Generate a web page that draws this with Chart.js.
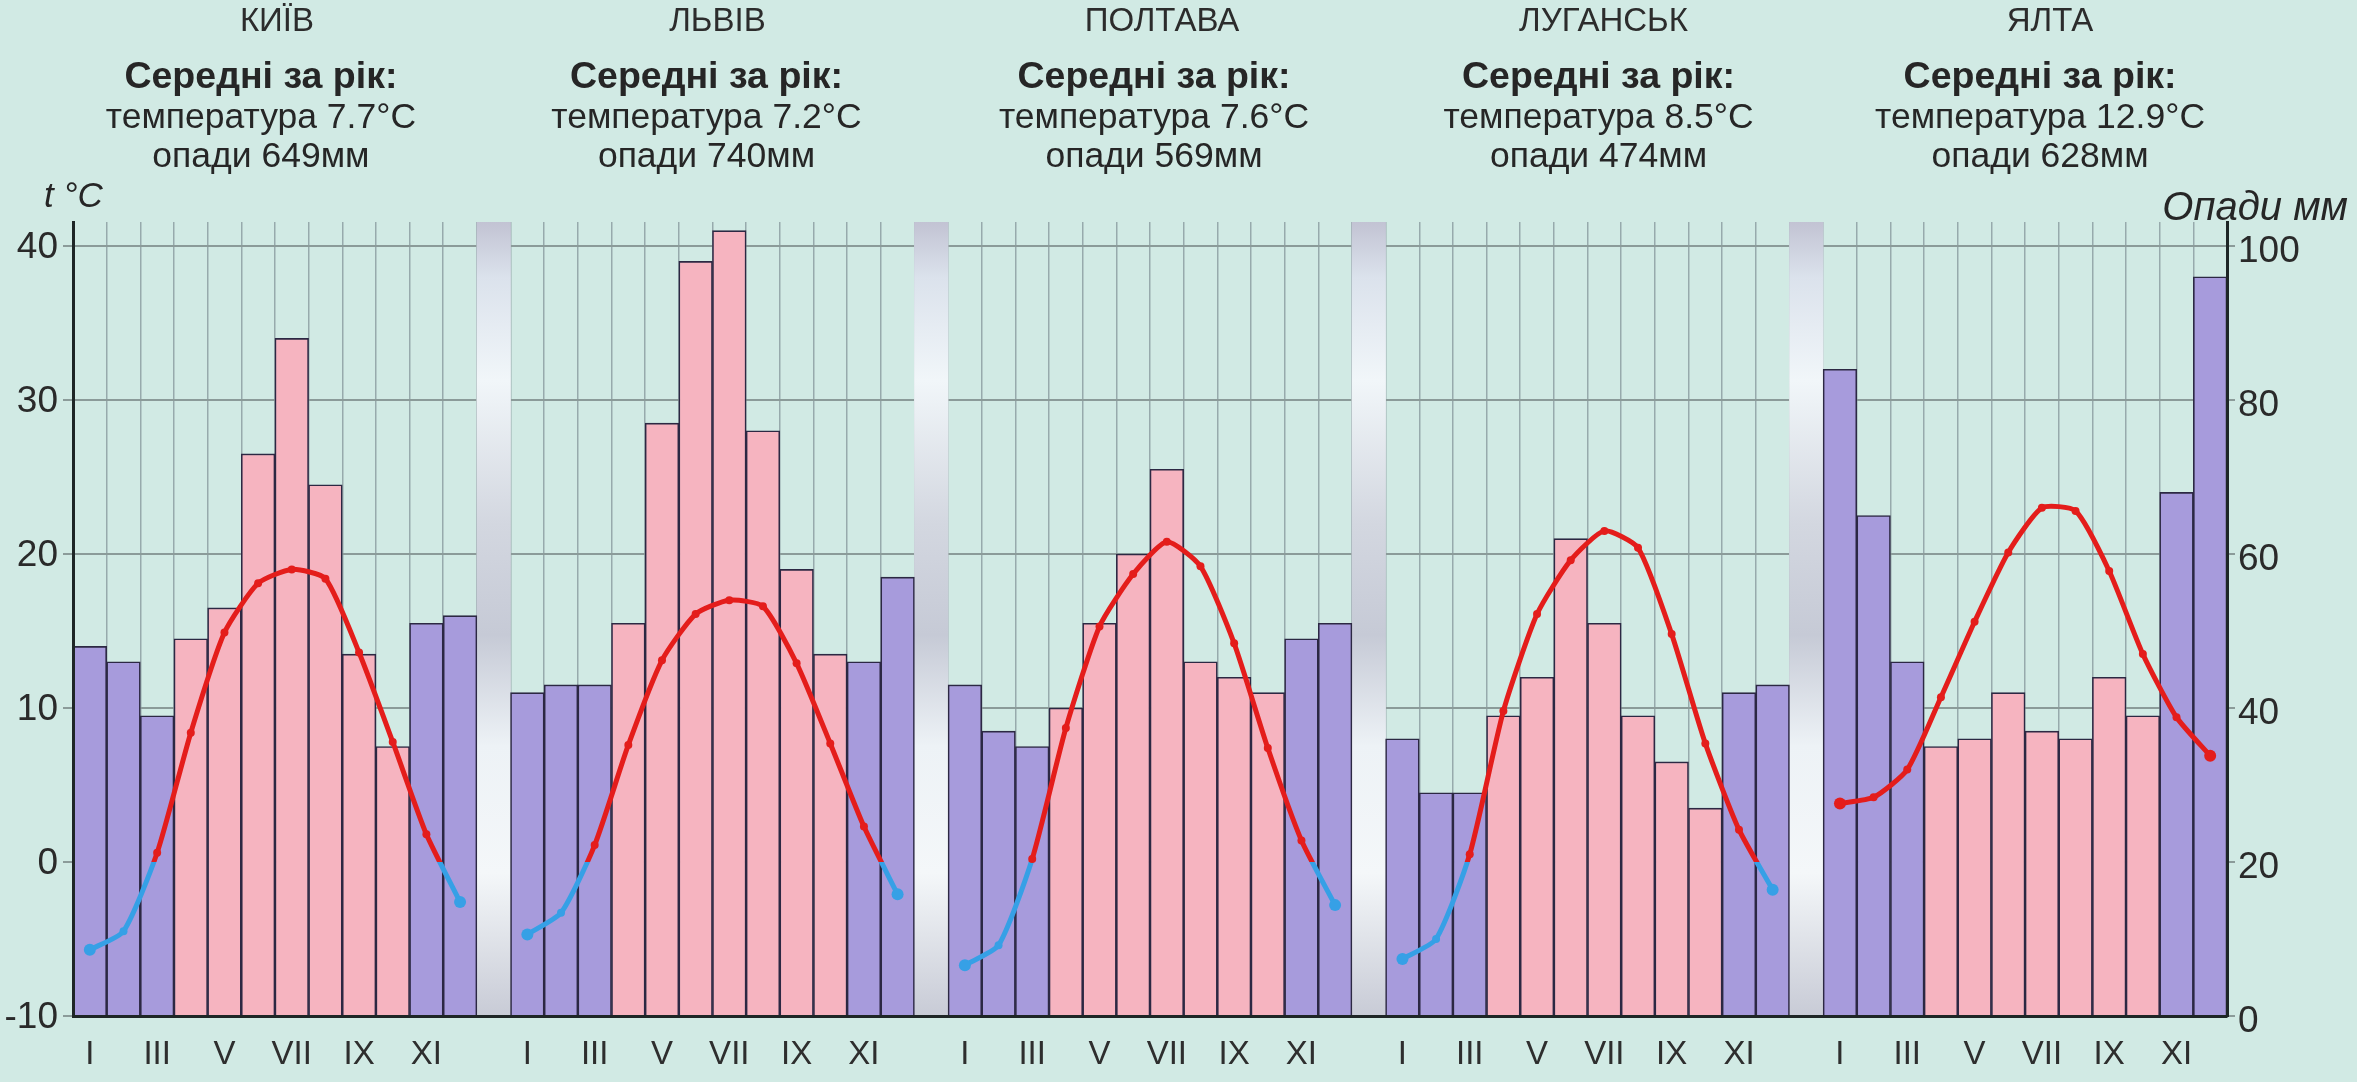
<!DOCTYPE html>
<html lang="uk">
<head>
<meta charset="utf-8">
<title>Клімат міст України</title>
<script src="https://cdn.jsdelivr.net/npm/chart.js@4/dist/chart.umd.min.js"></script>
<style>
  html, body { margin: 0; padding: 0; background: #d1eae4; }
  #wrap {
    position: relative; width: 2357px; height: 1082px; overflow: hidden;
    background: #d1eae4; color: #262626;
    font-family: 'Liberation Sans', Arial, Helvetica, sans-serif;
  }
  #chart { position: absolute; left: 0; top: 0; }
  .head { position: absolute; transform: translateX(-50%); white-space: nowrap; text-align: center; line-height: 1; }
  .name { font-size: 33px; color: #2c2c2c; }
  .sub  { font-size: 37.5px; font-weight: bold; }
  .val  { font-size: 35.5px; }
  .axis-title { position: absolute; font-style: italic; line-height: 1; white-space: nowrap; }
</style>
</head>
<body>
<div id="wrap">
  <canvas id="chart" width="2357" height="1082"></canvas>
  <div id="heads"></div>
  <div class="axis-title" id="tTitle" style="left:44px; top:177px; font-size:35px;">t °C</div>
  <div class="axis-title" id="pTitle" style="right:9px; top:186px; font-size:40px;">Опади мм</div>
</div>
<script>
// Month labels (Roman numerals) and the ones printed under the axis
const MONTHS = ['I', 'II', 'III', 'IV', 'V', 'VI', 'VII', 'VIII', 'IX', 'X', 'XI', 'XII'];
const SHOWN_MONTHS = ['I', 'III', 'V', 'VII', 'IX', 'XI'];

// Stations and their yearly averages
const CITIES = ['КИЇВ', 'ЛЬВІВ', 'ПОЛТАВА', 'ЛУГАНСЬК', 'ЯЛТА'];
const ANNUAL_TEMP = ['7.7', '7.2', '7.6', '8.5', '12.9'];
const ANNUAL_PRECIP = [649, 740, 569, 474, 628];

// Monthly precipitation, mm
const KYIV_PRECIP    = [48, 46, 39, 49, 53, 73, 88, 69, 47, 35, 51, 52];
const LVIV_PRECIP    = [42, 43, 43, 51, 77, 98, 102, 76, 58, 47, 46, 57];
const POLTAVA_PRECIP = [43, 37, 35, 40, 51, 60, 71, 46, 44, 42, 49, 51];
const LUHANSK_PRECIP = [36, 29, 29, 39, 44, 62, 51, 39, 33, 27, 42, 43];
const YALTA_PRECIP   = [84, 65, 46, 35, 36, 42, 37, 36, 44, 39, 68, 96];

// Monthly mean air temperature, °C
const KYIV_TEMP    = [-5.7, -4.5, 0.6, 8.4, 14.9, 18.1, 19.0, 18.4, 13.6, 7.8, 1.8, -2.6];
const LVIV_TEMP    = [-4.7, -3.3, 1.1, 7.6, 13.1, 16.1, 17.0, 16.6, 12.9, 7.7, 2.3, -2.1];
const POLTAVA_TEMP = [-6.7, -5.4, 0.2, 8.7, 15.3, 18.7, 20.8, 19.2, 14.2, 7.4, 1.4, -2.8];
const LUHANSK_TEMP = [-6.3, -5.0, 0.5, 9.8, 16.1, 19.6, 21.5, 20.4, 14.8, 7.7, 2.1, -1.8];
const YALTA_TEMP   = [3.8, 4.2, 6.0, 10.7, 15.6, 20.1, 23.0, 22.8, 18.9, 13.5, 9.4, 6.9];

const CITY_PRECIP = [KYIV_PRECIP, LVIV_PRECIP, POLTAVA_PRECIP, LUHANSK_PRECIP, YALTA_PRECIP];
const CITY_TEMP = [KYIV_TEMP, LVIV_TEMP, POLTAVA_TEMP, LUHANSK_TEMP, YALTA_TEMP];

// Axis ranges: 10 °C on the left axis equals 20 mm on the right axis
const TEMP_MIN = -10;
const TEMP_MAX = 41.56;
const TEMP_TOP_TICK = 40;
const PRECIP_MAX = (TEMP_MAX - TEMP_MIN) * 2;
const PRECIP_TOP_TICK = 100;

// Small horizontal nudges of the heading lines (px): station name, the text block below it
const NAME_SHIFT = [2, 5, 12, 16, 25];
const BLOCK_SHIFT = [-14, -6, 4, 11, 15];

// Colours
const BG = '#d1eae4';
const COLD_FILL = '#a79bdc';
const WARM_FILL = '#f6b4c0';
const BAR_EDGE = '#2c2843';
const RED = '#e41d1b';
const BLUE = '#36a0e6';
const isColdMonth = m => m <= 2 || m >= 10;

// Flatten the five stations onto one category axis, with a spacer slot between stations
const labels = [], precip = [], temp = [], spacer = [], monthOf = [];
CITIES.forEach((city, c) => {
  for (let m = 0; m < 12; m++) {
    labels.push(MONTHS[m]);
    precip.push(CITY_PRECIP[c][m]);
    temp.push(CITY_TEMP[c][m]);
    spacer.push(null);
    monthOf.push(m);
  }
  if (c < CITIES.length - 1) {
    labels.push('');
    precip.push(null);
    temp.push(null);
    spacer.push([TEMP_MIN, TEMP_MAX]);
    monthOf.push(-1);
  }
});

// Shiny grey strip drawn in the spacer slots
function spacerFill(ctx) {
  const chart = ctx.chart, a = chart.chartArea;
  if (!a) return '#d8dce4';
  const g = chart.ctx.createLinearGradient(0, a.top, 0, a.bottom);
  g.addColorStop(0.00, '#c2c3d3');
  g.addColorStop(0.07, '#dbe2ec');
  g.addColorStop(0.20, '#f1f6f9');
  g.addColorStop(0.38, '#d3d7e0');
  g.addColorStop(0.52, '#c6cad6');
  g.addColorStop(0.66, '#edf2f6');
  g.addColorStop(0.82, '#f4f7f9');
  g.addColorStop(1.00, '#c8cbd6');
  return g;
}

// Temperature curve: red above 0 °C, blue below
function tempStroke(ctx) {
  const chart = ctx.chart, a = chart.chartArea;
  if (!a) return RED;
  const y0 = chart.scales.y.getPixelForValue(0);
  const f = Math.min(1, Math.max(0, (y0 - a.top) / (a.bottom - a.top)));
  const g = chart.ctx.createLinearGradient(0, a.top, 0, a.bottom);
  g.addColorStop(0, RED);
  g.addColorStop(f, RED);
  g.addColorStop(f, BLUE);
  g.addColorStop(1, BLUE);
  return g;
}

// Tick values every `step` from `from` to `to`
function tickRange(from, to, step) {
  const out = [];
  for (let v = from; v <= to + 1e-9; v += step) out.push({ value: v });
  return out;
}

Chart.defaults.font.family = "'Liberation Sans', Arial, Helvetica, sans-serif";
Chart.defaults.color = '#2a2a2a';

const bgPlugin = {
  id: 'bg',
  beforeDraw(chart) {
    const c = chart.ctx;
    c.save();
    c.fillStyle = BG;
    c.fillRect(0, 0, chart.width, chart.height);
    c.restore();
  }
};

const chart = new Chart(document.getElementById('chart'), {
  data: {
    labels,
    datasets: [
      {
        type: 'line',
        label: 'Температура',
        data: temp,
        yAxisID: 'y',
        order: 0,
        spanGaps: false,
        tension: 0.2,
        borderWidth: 5,
        borderColor: tempStroke,
        pointRadius: ctx => {
          const m = monthOf[ctx.dataIndex];
          return (m === 0 || m === 11) ? 6 : 4;
        },
        pointBorderWidth: 0,
        pointBackgroundColor: ctx => (ctx.raw !== null && ctx.raw < 0) ? BLUE : RED,
        pointHoverRadius: 0
      },
      {
        type: 'bar',
        label: 'Опади',
        data: precip,
        yAxisID: 'y2',
        order: 1,
        grouped: false,
        barPercentage: 1,
        categoryPercentage: 1,
        backgroundColor: ctx => isColdMonth(monthOf[ctx.dataIndex]) ? COLD_FILL : WARM_FILL,
        borderColor: BAR_EDGE,
        borderWidth: 1.6
      },
      {
        type: 'bar',
        label: '',
        data: spacer,
        yAxisID: 'y',
        order: 2,
        grouped: false,
        barPercentage: 1,
        categoryPercentage: 1,
        backgroundColor: spacerFill,
        borderWidth: 0
      }
    ]
  },
  options: {
    responsive: false,
    animation: false,
    events: [],
    layout: { padding: { top: 222, left: 0, right: 0, bottom: 0 } },
    plugins: { legend: { display: false }, tooltip: { enabled: false } },
    scales: {
      x: {
        type: 'category',
        offset: true,
        afterFit: s => { s.height = 66; },
        grid: { offset: true, color: '#97aaac', lineWidth: 1.5, drawTicks: false },
        border: { display: true, color: '#1e2626', width: 3, z: 1 },
        ticks: {
          autoSkip: false,
          maxRotation: 0,
          padding: 19,
          font: { size: 33 },
          color: '#2e2e2e',
          callback(value) {
            const l = this.getLabelForValue(value);
            return SHOWN_MONTHS.includes(l) ? l : '';
          }
        }
      },
      y: {
        position: 'left',
        min: TEMP_MIN,
        max: TEMP_MAX,
        afterFit: s => { s.width = 73; },
        afterBuildTicks: s => { s.ticks = tickRange(TEMP_MIN, TEMP_TOP_TICK, 10); },
        ticks: { padding: 5, labelOffset: 2, font: { size: 37 }, color: '#2a2a2a' },
        grid: { color: '#8b9b99', lineWidth: 2, drawTicks: true, tickLength: 10 },
        border: { display: true, color: '#1e2626', width: 3, z: 1 }
      },
      y2: {
        position: 'right',
        min: 0,
        max: PRECIP_MAX,
        afterFit: s => { s.width = 130; },
        afterBuildTicks: s => { s.ticks = tickRange(0, PRECIP_TOP_TICK, 20); },
        ticks: { padding: 3, labelOffset: 6, font: { size: 37 }, color: '#2a2a2a' },
        grid: { drawOnChartArea: false, color: '#8b9b99', lineWidth: 2, drawTicks: true, tickLength: 8 },
        border: { display: true, color: '#1e2626', width: 3, z: 1 }
      }
    }
  },
  plugins: [bgPlugin]
});

// Station headings centred over each group of twelve bars
const xs = chart.scales.x;
const heads = document.getElementById('heads');
CITIES.forEach((city, c) => {
  const first = c * 13, last = first + 11;
  const cx = (xs.getPixelForValue(first) + xs.getPixelForValue(last)) / 2;
  const lines = [
    { cls: 'name', text: city, top: 3, dx: NAME_SHIFT[c] },
    { cls: 'sub', text: 'Середні за рік:', top: 57, dx: BLOCK_SHIFT[c] },
    { cls: 'val', text: 'температура ' + ANNUAL_TEMP[c] + '°C', top: 99, dx: BLOCK_SHIFT[c] },
    { cls: 'val', text: 'опади ' + ANNUAL_PRECIP[c] + 'мм', top: 138, dx: BLOCK_SHIFT[c] }
  ];
  lines.forEach(l => {
    const d = document.createElement('div');
    d.className = 'head ' + l.cls;
    d.textContent = l.text;
    d.style.left = (cx + l.dx) + 'px';
    d.style.top = l.top + 'px';
    heads.appendChild(d);
  });
});
</script>
</body>
</html>
